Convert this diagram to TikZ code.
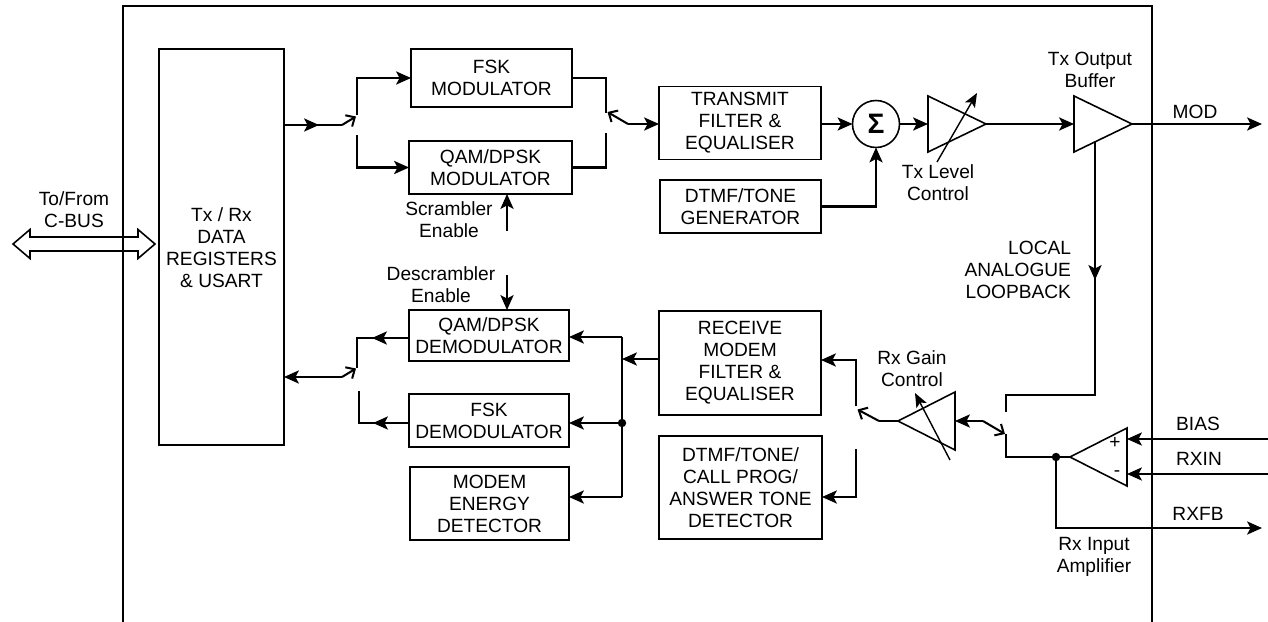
\documentclass[tikz,border=0pt]{standalone}
\usepackage{fontspec}
\setmainfont{Liberation Sans}
\usetikzlibrary{arrows.meta,decorations.markings,calc}
\begin{document}
\begin{tikzpicture}[x=0.02cm,y=-0.02cm,
  every node/.style={font=\fontsize{10.9}{12.5}\selectfont, inner sep=0pt, outer sep=0pt},
  blk/.style={draw, line width=0.9pt, align=center},
  wire/.style={line width=1.15pt},
  arr/.style={wire, -{Stealth[length=8.5pt,width=7.5pt,inset=2pt]}},
  sw/.style={wire, -{Straight Barb[length=4pt,width=7.5pt]}},
  tri/.style={line width=0.9pt, line join=miter},
  var/.style={line width=0.8pt, -{Stealth[length=8pt,width=6.5pt,inset=1.8pt]}},
  lbl/.style={align=center},
  midarr/.style={postaction={decorate}, decoration={markings, mark=at position #1 with {\arrow{Stealth[length=8.5pt,width=7.5pt,inset=2pt]}}}},
]
\useasboundingbox (0,0) rectangle (1268,622);
% outer chip boundary
\draw[line width=0.9pt] (123,622) -- (123,6) -- (1152,6) -- (1152,622);

% blocks
\node[blk, minimum width=2.5cm, minimum height=7.92cm] (dr) at (221.5,247) {};
\node[lbl] at (221.5,248) {Tx / Rx\\DATA\\REGISTERS\\\& USART};
\node[blk, minimum width=3.22cm, minimum height=1.16cm] (fskmod) at (491.5,78) {FSK\\MODULATOR};
\node[blk, minimum width=3.26cm, minimum height=1.06cm] (qammod) at (490.5,167.5) {QAM/DPSK\\MODULATOR};
\node[blk, minimum width=3.24cm, minimum height=1.46cm] (txf) at (740,123) {TRANSMIT\\FILTER \&\\EQUALISER};
\node[blk, minimum width=3.22cm, minimum height=1.06cm] (dtmfgen) at (740.5,206.5) {DTMF/TONE\\GENERATOR};
\node[blk, minimum width=3.24cm, minimum height=2.08cm] (rxf) at (740,363) {RECEIVE\\MODEM\\FILTER \&\\EQUALISER};
\node[blk, minimum width=3.26cm, minimum height=2.06cm] (dtmfdet) at (740.5,487.5) {DTMF/TONE/\\CALL PROG/\\ANSWER TONE\\DETECTOR};
\node[blk, minimum width=3.2cm, minimum height=1.02cm] (qamdem) at (489,335.5) {QAM/DPSK\\DEMODULATOR};
\node[blk, minimum width=3.2cm, minimum height=1.06cm] (fskdem) at (489,420.5) {FSK\\DEMODULATOR};
\node[blk, minimum width=3.18cm, minimum height=1.46cm] (med) at (489.5,503.5) {MODEM\\ENERGY\\DETECTOR};
\node[draw, circle, line width=0.9pt, minimum size=0.94cm] (sum) at (876,124) {\fontsize{16}{16}\selectfont\bfseries Σ};

% C-BUS double arrow
\coordinate (cbus) at (13,244);
\draw[line width=0.9pt, line join=miter] (cbus) -- ++(17,-14.5) -- ++(0,7.5) -- ($(dr.west |- cbus)+(-21,-7)$) -- ++(0,-7.5) -- ($(dr.west |- cbus)+(-4,0)$) -- ++(-17,14.5) -- ++(0,-7.5) -- ($(cbus)+(17,7)$) -- ++(0,7.5) -- cycle;
\node[lbl] at (74,210) {To/From\\C-BUS};

% Tx data path
\coordinate (swtx) at (342,125);
\coordinate (swtxa) at (357,115);
\coordinate (swtxb) at (357,135);
\draw[wire, midarr=0.7cm] (swtx -| dr.east) -- (swtx);
\draw[sw] (swtx) -- (356,116.5);
\draw[arr] (swtxa) |- (fskmod.west);
\draw[arr] (swtxb) |- (qammod.west);
\draw[arr] (507,231) -- (qammod.south -| 507,0);
\node[lbl] at (449,220) {Scrambler\\Enable};

% modulator output switch
\coordinate (swmo) at (628,124);
\coordinate (swmoa) at (606,113);
\coordinate (swmob) at (606,133);
\draw[wire] (fskmod.east) -| (swmoa);
\draw[wire] (qammod.east) -| (swmob);
\draw[sw] (swmo) -- (607.5,112);
\draw[arr] (swmo) -- (swmo -| txf.west);

% summing and output
\draw[arr] (txf.east |- sum) -- (sum.west);
\draw[arr] (dtmfgen.east) -| (sum.south);
\coordinate (tl1) at (928,96);
\coordinate (tl2) at (928,152);
\coordinate (tlo) at (986,124);
\draw[tri] (tl1) -- (tlo) -- (tl2) -- cycle;
\draw[arr] (sum.east) -- (tl1 |- sum);
\draw[var] (937,162) -- (977,93);
\node[lbl] at (938,183) {Tx Level\\Control};

\coordinate (ob1) at (1074,96);
\coordinate (ob2) at (1074,152);
\coordinate (obo) at (1132,124);
\draw[tri] (ob1) -- (obo) -- (ob2) -- cycle;
\draw[arr] (tlo) -- (ob1 |- tlo);
\node[lbl] at (1090,70) {Tx Output\\Buffer};
\coordinate (modpin) at (1262,124);
\draw[arr] (obo) -- (modpin);
\node at (1195,112) {MOD};

% loopback
\coordinate (lbs) at (1095,142);
\coordinate (rxa) at (1006,412);
\draw[wire, midarr=2.76cm] (lbs) |- (1006,395) -- (rxa);
\node[align=right, anchor=east] at (1071,270) {LOCAL\\ANALOGUE\\LOOPBACK};

% Rx input amplifier
\coordinate (ia1) at (1127,428);
\coordinate (ia2) at (1127,486);
\coordinate (iao) at (1070,457);
\draw[tri] (ia1) -- (iao) -- (ia2) -- cycle;
\node at (1115,443) {+};
\node at (1117,474) {-};
\draw[arr] (1268,439) -- (ia1 |- 0,439);
\draw[arr] (1268,474) -- (ia1 |- 0,474);
\node at (1198,424) {BIAS};
\node at (1199,459) {RXIN};
\coordinate (jn) at (1056,457);
\coordinate (rxb) at (1006,434);
\draw[wire] (iao) -- (jn) -| (rxb);
\fill (jn) circle[radius=2.4pt];
\coordinate (rxfb) at (1262,528);
\draw[arr] (jn) |- (rxfb);
\node at (1198,514) {RXFB};
\node[lbl] at (1094,557) {Rx Input\\Amplifier};

% Rx gain control
\coordinate (rg1) at (955,392);
\coordinate (rg2) at (955,450);
\coordinate (rgo) at (898,421);
\draw[tri] (rg1) -- (rgo) -- (rg2) -- cycle;
\coordinate (swrx) at (983,421);
\draw[sw] (swrx) -- (1005,434);
\draw[arr] (swrx) -- (rg1 |- swrx);
\draw[var] (950,460) -- (915,393);
\node[lbl] at (912,369) {Rx Gain\\Control};

% Rx switch to filters
\coordinate (swfl) at (879,421);
\coordinate (swfla) at (856,406);
\coordinate (swflb) at (856,449);
\draw[wire] (rgo) -- (swfl);
\draw[sw] (swfl) -- (857.5,409.5);
\draw[arr] (swfla) |- (rxf.east |- 0,360);
\draw[arr] (swflb) |- (dtmfdet.east |- 0,497);

% Rx bus
\coordinate (bus) at (622,359);
\coordinate (bt) at (622,337);
\coordinate (bm) at (622,423);
\coordinate (bb) at (622,497);
\draw[arr] (rxf.west |- bus) -- (bus);
\draw[wire] (bt) -- (bb);
\draw[arr] (bt) -- (qamdem.east |- bt);
\draw[arr] (bm) -- (fskdem.east |- bm);
\draw[arr] (bb) -- (med.east |- bb);
\fill (bm) circle[radius=2.4pt];
\draw[arr] (507,275) -- (qamdem.north -| 507,0);
\node[lbl] at (441,285) {Descrambler\\Enable};

% Rx data path
\coordinate (swrd) at (342,377);
\draw[wire, midarr=0.74cm] (qamdem.west |- 0,338) -- (357,338) -- (357,368);
\draw[wire, midarr=0.72cm] (fskdem.west |- 0,423) -- (359,423) -- (359,391);
\draw[sw] (swrd) -- (356,368.5);
\draw[arr] (swrd) -- (swrd -| dr.east);
\end{tikzpicture}
\end{document}
